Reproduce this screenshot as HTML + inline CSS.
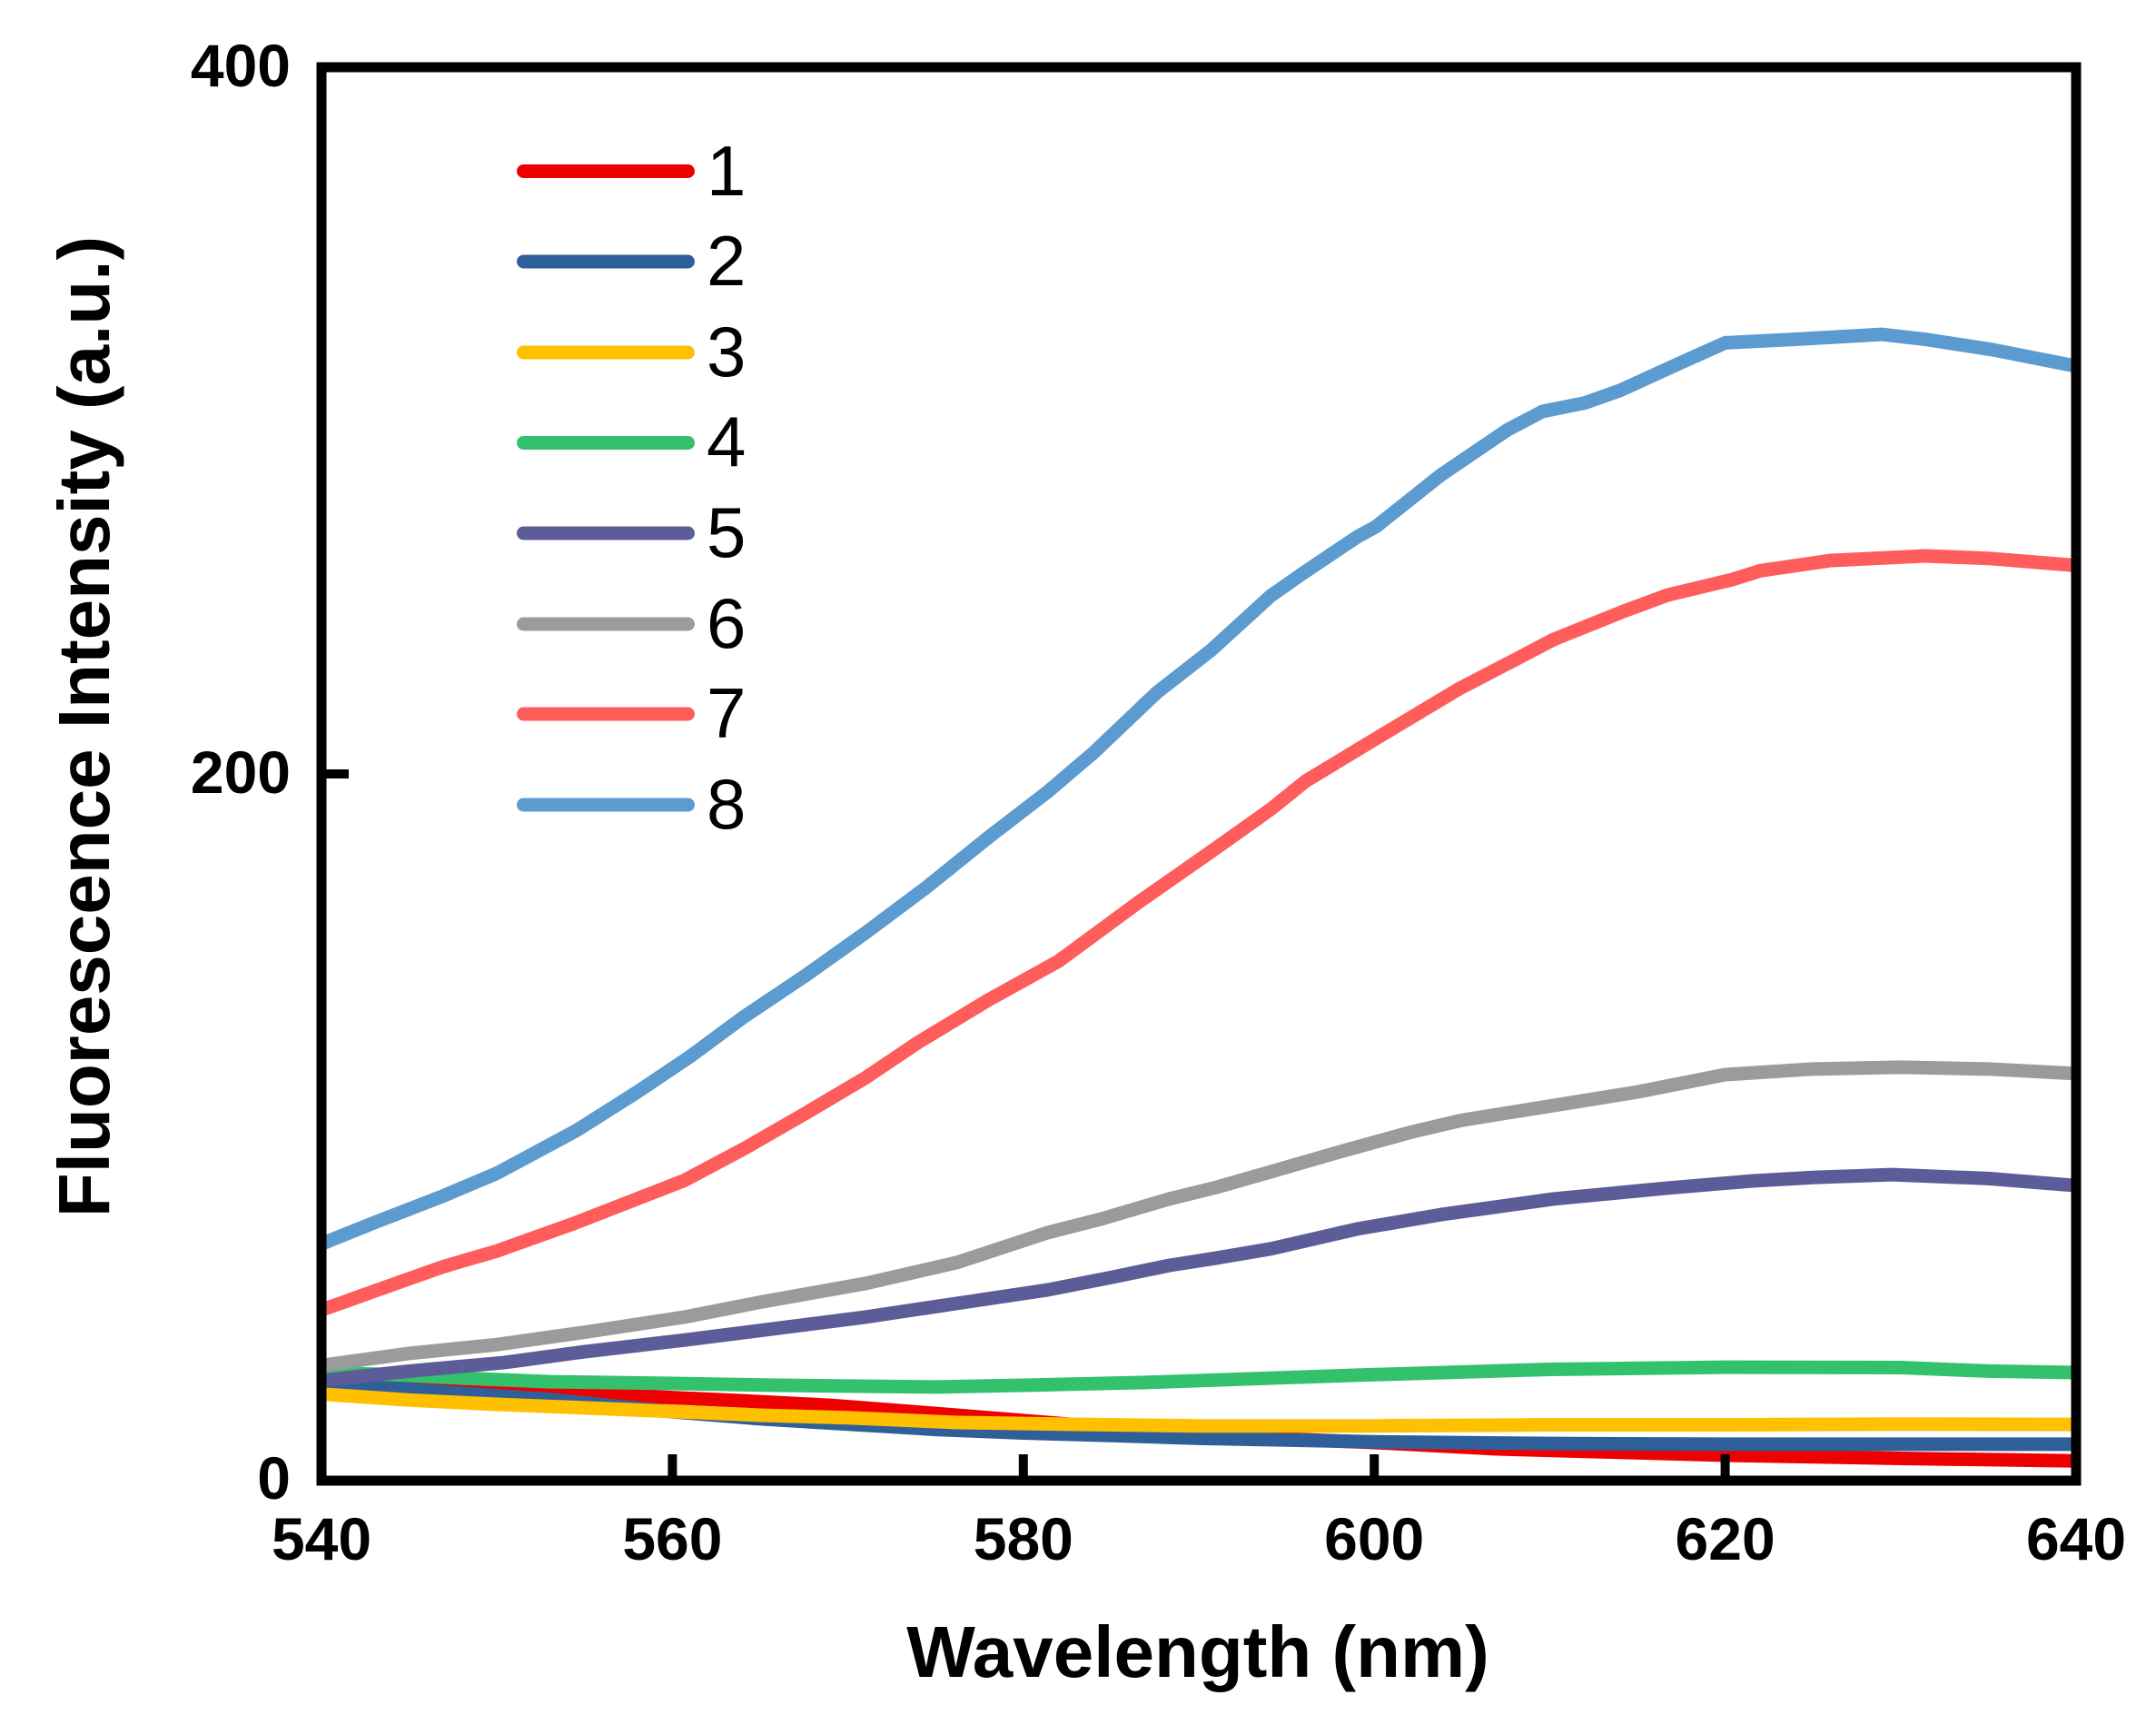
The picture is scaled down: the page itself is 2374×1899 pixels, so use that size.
<!DOCTYPE html>
<html>
<head>
<meta charset="utf-8">
<style>
html,body{margin:0;padding:0;background:#fff;}
svg{display:block;}
text{font-family:"Liberation Sans",Arial,sans-serif;fill:#000;}
</style>
</head>
<body>
<svg width="2374" height="1899" viewBox="0 0 2374 1899" xmlns="http://www.w3.org/2000/svg">
<rect x="0" y="0" width="2374" height="1899" fill="#fff"/>

<!-- data curves: x_px = 354 + (λ-540)*19.32 ; y_px = 1630 - I*3.89 -->
<g transform="translate(-10078.8,1630) scale(19.32,-3.89)" fill="none" stroke-width="15" stroke-linejoin="round" stroke-linecap="butt">
<polyline vector-effect="non-scaling-stroke" stroke="#EE0000" points="540,28 545,27 550,26.5 554,25.7 557,24.3 560,23.5 564,22.6 569,21.3 575,19 580,17 585,15 590,13.5 594,12 600,10.8 607,9 612,8.3 620,7.2 630,6.3 640,5.6"/>
<polyline vector-effect="non-scaling-stroke" stroke="#2F5F98" points="540,27 544.5,26 550,24 553,23 557,21 560,19.5 565,17.5 570,16 575,14.5 580,13.5 585,12.8 590,12 594,11.6 600,11 610,10.5 620,10.3 630,10.3 640,10.3"/>
<polyline vector-effect="non-scaling-stroke" stroke="#FFC000" points="540,24.5 545,22.8 550,21.6 553,21 558,20 565,18.5 570,17.8 576,16.5 582,16 590,15.5 600,15.5 610,15.8 620,15.8 630,16 640,15.9"/>
<polyline vector-effect="non-scaling-stroke" stroke="#33C16E" points="540,30.5 544,30 548,29 553,28 560,27.5 566,27 575,26.5 580,27 587,27.8 594,29 600,30 610,31.5 620,32.1 630,32 635,31 640,30.6"/>
<polyline vector-effect="non-scaling-stroke" stroke="#5C5C99" points="540,28.3 545,31 550.4,33.4 555,36.5 560.7,39.8 565,42.5 571,46.3 576,50 581.4,54 585,57.5 588.3,60.9 591,63 594.1,65.6 599,71.2 603.8,75.3 610.2,79.7 616.7,82.8 621.5,84.8 625,85.8 629.5,86.6 635,85.5 640,83.5"/>
<polyline vector-effect="non-scaling-stroke" stroke="#9B9B9B" points="540,32.6 545,36 550,38.5 555,42 560.7,46.3 565,50.5 571,55.8 576.2,61.7 581.4,70.2 584.4,74 588.3,79.7 591,83 594.1,87.4 598,93 602,98.5 605,102 610,106 615,110 620,114.9 625,116.5 630,117 635,116.5 640,115.2"/>
<polyline vector-effect="non-scaling-stroke" stroke="#FF5C5C" points="540,48.3 543,53.6 546.9,60.5 550,65 554.5,73 560.7,85 564.1,94 567.6,104 571,114 574,124 578,136 582,147 586.6,163.8 590.7,178 594.1,190 596.1,198 600.1,210 604.8,224 607.9,232 610.2,238 614.2,246 616.7,250.6 620.4,255 622,257.5 626,260.4 631.4,261.7 635,261 640,259"/>
<polyline vector-effect="non-scaling-stroke" stroke="#5B9BD0" points="540,67 543,73 546.9,80.5 550,87 554.5,99 558,110 561,120 564,131 567.6,143 571,155 574.5,168 578,182 581.4,195 584,206 587.6,223 590.7,235 594.1,250.4 596,257 599,267 600.1,270 603.8,284.6 607.6,297.4 609.6,302.6 612,305 614,308.5 617.3,316 620,322 624,323 628.9,324.4 631.4,323 635.3,320 640,315.4"/>
</g>

<!-- axes frame -->
<rect x="354" y="74" width="1932" height="1556" fill="none" stroke="#000" stroke-width="11" stroke-linejoin="miter"/>
<!-- ticks -->
<g stroke="#000" stroke-width="10">
<line x1="354" y1="852" x2="384" y2="852"/>
<line x1="740.4" y1="1630" x2="740.4" y2="1601"/>
<line x1="1126.8" y1="1630" x2="1126.8" y2="1601"/>
<line x1="1513.2" y1="1630" x2="1513.2" y2="1601"/>
<line x1="1899.6" y1="1630" x2="1899.6" y2="1601"/>
</g>

<!-- y tick labels -->
<g font-size="66" font-weight="bold" text-anchor="end">
<text x="320" y="95">400</text>
<text x="320" y="873">200</text>
<text x="320" y="1650">0</text>
</g>
<!-- x tick labels -->
<g font-size="66" font-weight="bold" text-anchor="middle">
<text x="354" y="1717">540</text>
<text x="740.4" y="1717">560</text>
<text x="1126.8" y="1717">580</text>
<text x="1513.2" y="1717">600</text>
<text x="1899.6" y="1717">620</text>
<text x="2286" y="1717">640</text>
</g>

<!-- axis titles -->
<text x="1319" y="1846" font-size="80" font-weight="bold" text-anchor="middle">Wavelength (nm)</text>
<text x="0" y="0" font-size="80" font-weight="bold" text-anchor="middle" transform="translate(120,800) rotate(-90)">Fluorescence Intensity (a.u.)</text>

<!-- legend -->
<g stroke-width="15" stroke-linecap="round">
<line x1="576.5" y1="188.5" x2="757.5" y2="188.5" stroke="#EE0000"/>
<line x1="576.5" y1="288" x2="757.5" y2="288" stroke="#2F5F98"/>
<line x1="576.5" y1="388" x2="757.5" y2="388" stroke="#FFC000"/>
<line x1="576.5" y1="487.5" x2="757.5" y2="487.5" stroke="#33C16E"/>
<line x1="576.5" y1="587" x2="757.5" y2="587" stroke="#5C5C99"/>
<line x1="576.5" y1="687" x2="757.5" y2="687" stroke="#9B9B9B"/>
<line x1="576.5" y1="786" x2="757.5" y2="786" stroke="#FF5C5C"/>
<line x1="576.5" y1="886" x2="757.5" y2="886" stroke="#5B9BD0"/>
</g>
<g font-size="78">
<text x="778" y="215">1</text>
<text x="778" y="314">2</text>
<text x="778" y="414">3</text>
<text x="778" y="513">4</text>
<text x="778" y="613">5</text>
<text x="778" y="713">6</text>
<text x="778" y="812">7</text>
<text x="778" y="912">8</text>
</g>
</svg>
</body>
</html>
